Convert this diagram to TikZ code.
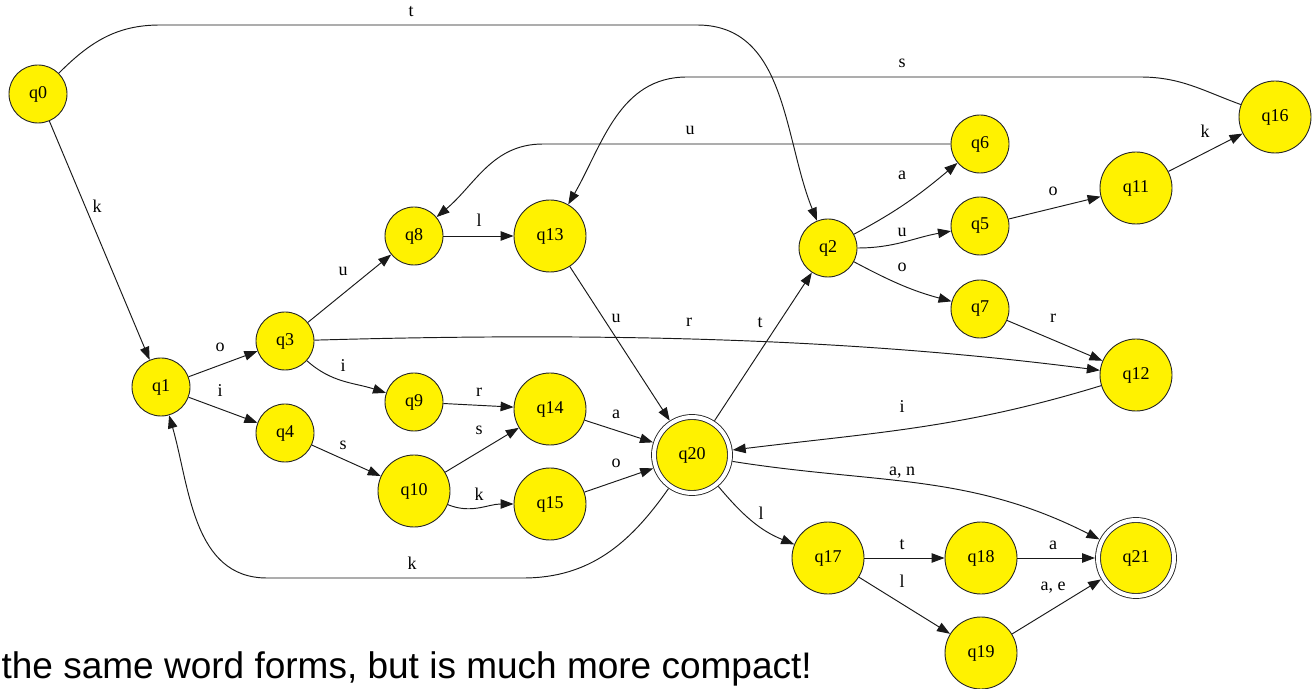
\documentclass[tikz,border=0pt]{standalone}
\usepackage{fontspec}
\setmainfont{Liberation Serif}
\newfontfamily\qserif{Liberation Serif}
\newfontfamily\capsans{Liberation Sans}
\usetikzlibrary{arrows.meta}
\begin{document}
\begin{tikzpicture}[x=1pt,y=1pt,
  st/.style={circle,draw=black!85,line width=0.9pt,fill=yellow,minimum size=58pt,inner sep=0pt,font=\qserif\fontsize{18}{18}\selectfont},
  big/.style={st,minimum size=72pt},
  acc/.style={st,minimum size=76pt,double=white,double distance=4pt,outer sep=3pt},
  edge/.style={line width=0.95pt,draw=black!90,-{Triangle[length=13pt,width=9.5pt]}},
  lbl/.style={anchor=base,font=\qserif\fontsize{18}{18}\selectfont,inner sep=0pt}]
\fill[white] (0,0) rectangle (1313,688);
\useasboundingbox (0,0) rectangle (1313,688);

% states
\node[st]  (q0)  at (38,594)  {q0};
\node[st]  (q1)  at (161,301) {q1};
\node[st]  (q3)  at (285,347) {q3};
\node[st]  (q4)  at (285,255) {q4};
\node[st]  (q8)  at (414,452) {q8};
\node[st]  (q9)  at (414,286) {q9};
\node[big] (q10) at (414,197) {q10};
\node[big] (q13) at (550,452) {q13};
\node[big] (q14) at (550,279) {q14};
\node[big] (q15) at (550,184) {q15};
\node[acc] (q20) at (692,233) {q20};
\node[st]  (q2)  at (828,440) {q2};
\node[st]  (q6)  at (980,544) {q6};
\node[st]  (q5)  at (980,462) {q5};
\node[st]  (q7)  at (980,379) {q7};
\node[big] (q11) at (1136,500) {q11};
\node[big] (q16) at (1275,571) {q16};
\node[big] (q12) at (1136,313) {q12};
\node[big] (q17) at (828,130) {q17};
\node[big] (q18) at (981,130) {q18};
\node[big] (q19) at (981,35)  {q19};
\node[acc] (q21) at (1136,130) {q21};

% route points
\coordinate (t1) at (160,663);
\coordinate (t2) at (697,663);
\coordinate (s1) at (1140,611);
\coordinate (s2) at (687,611);
\coordinate (u1) at (543,544);
\coordinate (k1) at (523,110);
\coordinate (k2) at (267,110);

% transitions
\draw[edge] (q0) to[out=45,in=180] (t1) -- (t2) to[out=0,in=112] (q2);
\draw[edge] (q0) -- (q1);
\draw[edge] (q1) -- (q3);
\draw[edge] (q1) -- (q4);
\draw[edge] (q3) -- (q8);
\draw[edge] (q3) to[out=-42,in=162] (q9);
\draw[edge] (q3) .. controls (600,356) and (850,350) .. (q12);
\draw[edge] (q4) -- (q10);
\draw[edge] (q8) -- (q13);
\draw[edge] (q9) -- (q14);
\draw[edge] (q10) -- (q14);
\draw[edge] (q10) to[out=-22,in=180] (q15);
\draw[edge] (q13) -- (q20);
\draw[edge] (q14) -- (q20);
\draw[edge] (q15) -- (q20);
\draw[edge] (q20) -- (q2);
\draw[edge] (q20) to[out=235,in=0] (k1) -- (k2) to[out=180,in=-74] (q1);
\draw[edge] (q12) to[out=197,in=7] (q20);
\draw[edge] (q20) to[out=-9,in=153] (q21);
\draw[edge] (q20) to[out=-50,in=158] (q17);
\draw[edge] (q17) -- (q18);
\draw[edge] (q17) -- (q19);
\draw[edge] (q18) -- (q21);
\draw[edge] (q19) -- (q21);
\draw[edge] (q2) to[out=28,in=220] (q6);
\draw[edge] (q2) to[out=0,in=190] (q5);
\draw[edge] (q2) to[out=-28,in=165] (q7);
\draw[edge] (q5) -- (q11);
\draw[edge] (q11) -- (q16);
\draw[edge] (q7) -- (q12);
\draw[edge] (q6.west) -- (u1) to[out=180,in=40] (q8);
\draw[edge] (q16) to[out=160,in=0] (s1) -- (s2) to[out=180,in=60] (q13);

% labels
\node[lbl] (lt0)   at (411,671)  {t};
\node[lbl] (lk0)   at (97,475)   {k};
\node[lbl] (lo1)   at (220,336)  {o};
\node[lbl] (li1)   at (220,291)  {i};
\node[lbl] (lu3)   at (343,412)  {u};
\node[lbl] (li3)   at (343,316)  {i};
\node[lbl] (ls4)   at (343,238)  {s};
\node[lbl] (lk20)  at (412,119)  {k};
\node[lbl] (ll8)   at (479,461)  {l};
\node[lbl] (lu13)  at (616,365)  {u};
\node[lbl] (lr3)   at (689,361)  {r};
\node[lbl] (lt20)  at (760,360)  {t};
\node[lbl] (lr9)   at (479,291)  {r};
\node[lbl] (la14)  at (616,269)  {a};
\node[lbl] (ls10)  at (479,253)  {s};
\node[lbl] (lo15)  at (616,220)  {o};
\node[lbl] (lk10)  at (479,187)  {k};
\node[lbl] (ll20)  at (761,168)  {l};
\node[lbl] (ls16)  at (902,620)  {s};
\node[lbl] (la2)   at (902,508)  {a};
\node[lbl] (lu2)   at (902,451)  {u};
\node[lbl] (lo2)   at (902,416)  {o};
\node[lbl] (lo5)   at (1053,492) {o};
\node[lbl] (lk11)  at (1205,550) {k};
\node[lbl] (lu6)   at (690,553)  {u};
\node[lbl] (lr7)   at (1053,365) {r};
\node[lbl] (li12)  at (902,275)  {i};
\node[lbl] (lan)   at (902,212)  {a, n};
\node[lbl] (lt17)  at (902,139)  {t};
\node[lbl] (la18)  at (1053,139) {a};
\node[lbl] (ll17)  at (902,101)  {l};
\node[lbl] (lae)   at (1053,98)  {a, e};

% caption
\node[anchor=base east,inner sep=0pt,font=\capsans\fontsize{37}{37}\selectfont] (caption) at (812,10)
  {the same word forms, but is much more compact!};
\end{tikzpicture}
\end{document}
